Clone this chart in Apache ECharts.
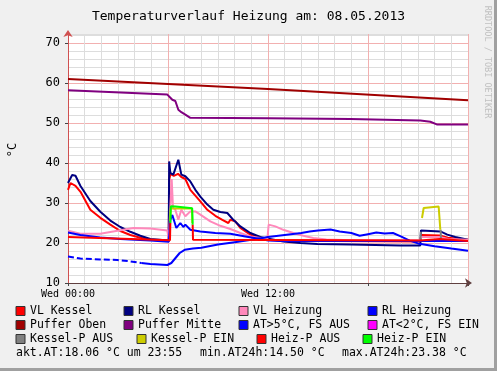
<!DOCTYPE html>
<html><head><meta charset="utf-8">
<script src="https://cdn.jsdelivr.net/npm/echarts@6/dist/echarts.min.js"></script>
<style>html,body{margin:0;padding:0;background:#f0f0f0}#c{width:497px;height:371px}</style>
</head><body><div id="c"></div>
<script>
// ---- texts ----
const chartTitle = 'Temperaturverlauf Heizung am: 08.05.2013';
const yAxisName = '°C';
const watermark = 'RRDTOOL / TOBI OETIKER';
const xTickLabels = {0: 'Wed 00:00', 12: 'Wed 12:00'};
const statsTexts = ['akt.AT:18.06 °C um 23:55', 'min.AT24h:14.50 °C', 'max.AT24h:23.38 °C'];

// ---- legend ----
const legendNames = ['VL Kessel','RL Kessel','VL Heizung','RL Heizung','Puffer Oben','Puffer Mitte',
  'AT>5°C, FS AUS','AT<2°C, FS EIN','Kessel-P AUS','Kessel-P EIN','Heiz-P AUS','Heiz-P EIN'];
const legendColors = ['#ff0000','#000080','#ff88bb','#0000ff','#a00000','#800080',
  '#0000ff','#ff00ff','#808080','#cccc00','#ff0000','#00ff00'];

// ---- data: [hour, °C] ----
const vlKessel = [[0,33.3],[0.15,35.0],[0.45,34.3],[0.75,32.8],[1.34,28.3],[1.94,26.3],[2.54,24.6],[3.14,23.0],[3.74,22.0],[4.34,21.3],[4.94,20.8],[6.04,20.5],
  [6.08,36.0],[6.15,37.3],[6.35,36.8],[6.6,37.3],[6.8,36.5],[7.04,36.0],[7.34,33.3],[7.94,30.4],[8.36,28.3],[8.84,26.8],[9.26,25.8],[9.62,25.0],[9.74,25.8],[10.04,25.4],[10.34,23.75],[10.94,22.1],[11.54,21.25],[11.96,20.8],[12.5,20.6],[16,20.5],[21.12,20.4],[21.2,22.0],[22.3,21.9],[22.8,21.3],[24,20.8]];
const rlKessel = [[0,35.0],[0.25,37.0],[0.45,36.8],[0.74,34.3],[1.34,30.5],[1.94,27.8],[2.54,25.6],[3.14,24.0],[3.74,22.8],[4.34,21.8],[4.94,21.0],[6.04,20.6],
  [6.07,40.4],[6.14,37.5],[6.32,37.1],[6.44,37.1],[6.62,40.8],[6.8,37.1],[7.04,36.7],[7.34,35.4],[7.64,33.3],[7.94,31.6],[8.36,29.6],[8.72,28.3],[9.14,27.75],[9.56,27.5],[9.92,25.8],[10.34,24.15],[10.94,22.5],[11.54,21.5],[11.96,21.1],[12.92,20.4],[13.94,20.0],[14.96,19.75],[16.94,19.6],[19.94,19.4],[21.14,19.4],
  [21.18,23.15],[22.34,22.9],[22.76,22.1],[23.24,21.5],[24,20.8]];
const vlHeizung = [[0,23.1],[0.74,22.3],[1.94,22.3],[3.14,23.2],[3.92,23.75],[4.94,23.6],[5.96,23.1],[6.05,20.8],[6.22,36.0],[6.3,28.8],[6.44,28.3],[6.62,25.8],[6.8,28.3],[7.04,26.7],[7.34,27.9],[7.64,27.9],[7.94,27.1],[8.54,25.4],[9.14,24.3],[9.74,23.5],[10.34,22.5],[10.94,21.65],[11.54,21.25],[11.96,20.9],
  [12.04,24.6],[12.44,24.15],[12.92,23.3],[13.52,22.5],[14.12,21.8],[14.72,21.25],[15.5,20.9],[17,20.7],[21.12,20.7],[21.2,21.5],[22.3,21.5],[22.8,21.0],[24,20.8]];
const rlHeizung = [[0,22.6],[0.74,22.0],[1.94,21.4],[3.14,21.0],[4.94,20.6],[6.05,20.3],[6.14,25.8],[6.26,27.0],[6.5,23.75],[6.74,25.0],[6.92,24.0],[7.04,24.6],[7.34,23.3],[7.94,22.9],[8.84,22.5],[9.74,22.3],[10.64,21.65],[11.54,21.0],[12.02,20.65],[13,20.5],[24,20.5]];
const pufferOben = [[0,61.0],[12,58.5],[24,55.7]];
const pufferMitte = [[0,58.2],[5.96,57.1],[6.05,56.8],[6.26,55.8],[6.44,55.5],[6.62,53.3],[6.8,52.7],[7.04,52.1],[7.34,51.3],[12.02,51.2],[16.94,51.0],[21.14,50.6],[21.74,50.3],[22.16,49.6],[24,49.6]];
const atMorning = [[0,16.65],[0.74,16.1],[1.94,15.9],[2.96,15.75],[3.74,15.4],[4.4,15.0]];
const atDay = [[4.4,15.0],[4.94,14.75],[5.96,14.5],[6.2,15.0],[6.5,16.5],[6.7,17.5],[7.0,18.3],[7.5,18.6],[8,18.8],[9,19.6],[10,20.2],[11,20.8],[12,21.5],[13,22.0],[14,22.5],[14.5,22.9],[15,23.1],[15.75,23.38],[16.3,22.9],[17,22.5],[17.5,21.8],[18,22.2],[18.5,22.6],[19,22.4],[19.5,22.5],[20,21.6],[20.5,20.6],[21,19.9],[22,19.2],[23,18.6],[24,18.06]];
const atCold = [];
const kesselPAus = [[21.15,20.6],[21.17,22.8],[null,null],[22.36,23.3],[22.38,20.8]];
const kesselPEin = [[6.12,25.5],[6.16,28.6],[7.44,28.6],[7.46,25.0],[null,null],[21.24,26.25],[21.34,28.75],[22.24,29.1],[22.34,23.3]];
const heizPAus = [[0,21.5],[6.12,20.7],[6.14,25.0],[null,null],[7.48,24.6],[7.5,20.8],[21.12,20.6],[21.2,21.0],[22.3,21.0],[24,20.5]];
const heizPEin = [[6.14,25.0],[6.17,29.2],[6.45,29.1],[6.5,28.7],[7.45,28.7],[7.48,24.6]];

const seriesData = [vlKessel, rlKessel, vlHeizung, rlHeizung, pufferOben, pufferMitte, atDay, atCold, kesselPAus, kesselPEin, heizPAus, heizPEin];

const FONT = "'DejaVu Sans Mono', monospace";
const chart = echarts.init(document.getElementById('c'), null, {renderer: 'canvas'});

const series = seriesData.map((d, i) => ({
  name: legendNames[i], type: 'line', data: d, showSymbol: false, symbol: 'none',
  connectNulls: false, animation: false, xAxisIndex: 0, yAxisIndex: 0,
  lineStyle: {color: legendColors[i], width: 2}, itemStyle: {color: legendColors[i]}
}));
// dashed morning part of the outside temperature
series.splice(6, 0, {
  name: legendNames[6], type: 'line', data: atMorning, showSymbol: false, symbol: 'none', animation: false,
  lineStyle: {color: legendColors[6], width: 2, type: [6, 3]}
});

// legend layout
const legendPos = [[16,311],[124,311],[239,311],[368,311],[16,325],[124,325],[239,325],[368,325],[16,339],[137,339],[257,339],[363,339]];
const graphics = [];
legendNames.forEach((n, i) => {
  const [x, y] = legendPos[i];
  graphics.push({type: 'rect', shape: {x: x, y: y - 4.5, width: 9, height: 9},
    style: {fill: legendColors[i], stroke: '#333', lineWidth: 1}});
  graphics.push({type: 'text', x: x + 14, y: y,
    style: {text: n, font: '11.5px ' + FONT, fill: '#000', align: 'left', verticalAlign: 'middle', textAlign: 'left', textVerticalAlign: 'middle'}});
});
const statsX = [16, 200, 342];
statsTexts.forEach((t, i) => graphics.push({type: 'text', x: statsX[i], y: 353,
  style: {text: t, font: '11.5px ' + FONT, fill: '#000', align: 'left', verticalAlign: 'middle', textAlign: 'left', textVerticalAlign: 'middle'}}));
graphics.push({type: 'text', x: 248.5, y: 17,
  style: {text: chartTitle, font: '13px ' + FONT, fill: '#000', align: 'center', verticalAlign: 'middle', textAlign: 'center', textVerticalAlign: 'middle'}});
graphics.push({type: 'text', x: 13, y: 150, rotation: Math.PI / 2,
  style: {text: yAxisName, font: '12px ' + FONT, fill: '#000', align: 'center', verticalAlign: 'middle', textAlign: 'center', textVerticalAlign: 'middle'}});
graphics.push({type: 'text', x: 487, y: 62, rotation: -Math.PI / 2,
  style: {text: watermark, font: '8.5px ' + FONT, fill: '#c0c0c0', align: 'center', verticalAlign: 'middle', textAlign: 'center', textVerticalAlign: 'middle'}});
graphics.push({type: 'rect', shape: {x: 494, y: 0, width: 3, height: 371}, style: {fill: '#a0a0a0'}});
graphics.push({type: 'rect', shape: {x: 0, y: 368, width: 497, height: 3}, style: {fill: '#a0a0a0'}});

const MINOR = '#dddddd', MAJOR = '#f2b0b0';
chart.setOption({
  backgroundColor: '#f0f0f0',
  animation: false,
  grid: {left: 68, top: 34, width: 400, height: 249, show: true, backgroundColor: '#ffffff', borderWidth: 0},
  xAxis: [
    {type: 'value', min: 0, max: 24, interval: 1, axisLine: {show: false}, axisTick: {show: false}, axisLabel: {show: false},
      splitLine: {show: true, lineStyle: {color: MINOR, width: 1}}},
    {type: 'value', min: 0, max: 24, interval: 6, position: 'bottom',
      axisLine: {show: true, lineStyle: {color: '#604040', width: 1}, symbol: ['none', 'arrow'], symbolSize: [7, 7], symbolOffset: [0, 4]},
      axisTick: {show: true, length: 3, lineStyle: {color: '#444'}},
      axisLabel: {margin: 6, fontFamily: FONT, fontSize: 10, color: '#000', formatter: v => xTickLabels[v] || ''},
      splitLine: {show: true, lineStyle: {color: MAJOR, width: 1}}}
  ],
  yAxis: [
    {type: 'value', min: 10, max: 72.25, interval: 2, axisLine: {show: false}, axisTick: {show: false}, axisLabel: {show: false},
      splitLine: {show: true, lineStyle: {color: MINOR, width: 1}}},
    {type: 'value', min: 10, max: 72.25, interval: 10, position: 'left',
      axisLine: {show: true, lineStyle: {color: '#d05050', width: 1}, symbol: ['none', 'arrow'], symbolSize: [7, 7], symbolOffset: [0, 4]},
      axisTick: {show: true, length: 3, lineStyle: {color: '#444'}},
      axisLabel: {margin: 8, fontFamily: FONT, fontSize: 12, color: '#000', formatter: v => (v % 10 === 0 ? String(v) : ''), showMaxLabel: false},
      splitLine: {show: true, showMaxLine: false, lineStyle: {color: MAJOR, width: 1}}}
  ],
  series: series,
  graphic: graphics
});
</script></body></html>
